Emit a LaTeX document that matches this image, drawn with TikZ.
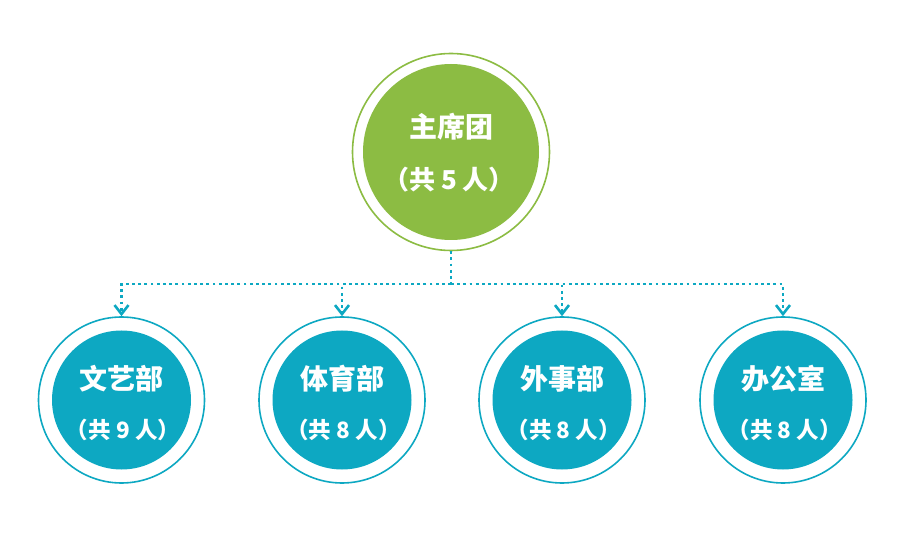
\documentclass[tikz,border=0pt]{standalone}
\usepackage{fontspec}
\newfontfamily\cjk{Noto Sans CJK SC}
\usetikzlibrary{arrows.meta, positioning}
\definecolor{leaf}{HTML}{8CBC43}
\definecolor{sea}{HTML}{0DA8C2}
\tikzset{
  font=\cjk,
  >={Straight Barb[length=9pt, width=14pt, line width=2.6pt]},
  %
  ring/.style={circle, draw, line width=1.6pt, fill=white, inner sep=0pt},
  ringg/.style={ring, draw=leaf, minimum size=197pt},
  rings/.style={ring, draw=sea,  minimum size=166pt},
  %
  disc/.style={circle, inner sep=0pt},
  discg/.style={disc, fill=leaf, minimum size=176pt},
  discs/.style={disc, fill=sea,  minimum size=139pt},
  %
  ttl/.style={text=white, inner sep=0pt, font=\cjk\bfseries\fontsize{28}{30}\selectfont},
  subt/.style={text=white, inner sep=0pt, font=\cjk\bfseries\fontsize{26}{28}\selectfont},
  subs/.style={text=white, inner sep=0pt, font=\cjk\bfseries\fontsize{22.5}{24}\selectfont},
  %
  link/.style={draw=sea, line width=2.8pt, dash pattern=on 2.8pt off 3.4pt},
}

\begin{document}
\begin{tikzpicture}[x=1pt, y=-1pt]
  \useasboundingbox (0,0) rectangle (900,553);

  % top: presidium
  \node[ringg] (top) at (451,152) {};
  \node[discg] (topd) at (top.center) {};
  \node[ttl]  (topt) at (451,127) {主席团};
  \node[subt] (tops) at (449,180) {（共 5 人）};

  % four departments
  \node[rings] (wy) at (121.5,400) {};
  \node[rings] (ty) at (342,400) {};
  \node[rings] (ws) at (562,400) {};
  \node[rings] (bg) at (783,400) {};
  \foreach \d in {wy, ty, ws, bg}
    \node[discs] (\d d) at (\d.center) {};

  \node[ttl]  (wyt) at (121.5,379) {文艺部};
  \node[subs] (wys) at (123,430) {（共 9 人）};
  \node[ttl]  (tyt) at (342,379) {体育部};
  \node[subs] (tys) at (343.5,430) {（共 8 人）};
  \node[ttl]  (wst) at (562,379) {外事部};
  \node[subs] (wss) at (563.5,430) {（共 8 人）};
  \node[ttl]  (bgt) at (783,379) {办公室};
  \node[subs] (bgs) at (784.5,430) {（共 8 人）};

  % dotted tree
  \coordinate (bus) at (451,284);
  \draw[link] (top.south) -- (bus);
  \foreach \d in {wy, ty, ws, bg}
    \draw[link, ->] (bus) -| (\d.north);

\end{tikzpicture}
\end{document}
